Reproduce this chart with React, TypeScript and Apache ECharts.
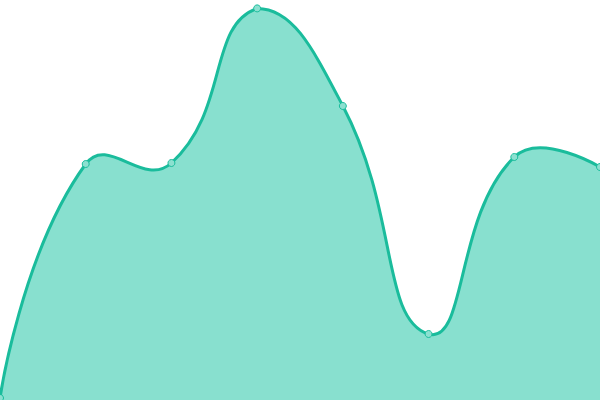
import React, { useEffect, useRef } from "react";
import * as echarts from "echarts";

const categories = ["A", "B", "C", "D", "E", "F", "G", "H"];
const values = [0.5, 59, 59.25, 97.9, 73.5, 16.5, 60.75, 58.25];

const SMOOTH = 0.5;

type P = number[];

function buildCurve(pts: P[]): string {
  // Catmull-Rom-like smoothing (ECharts 4 style) with bounding-box constraint
  let minX = Infinity, minY = Infinity, maxX = -Infinity, maxY = -Infinity;
  pts.forEach((p) => {
    minX = Math.min(minX, p[0]); maxX = Math.max(maxX, p[0]);
    minY = Math.min(minY, p[1]); maxY = Math.max(maxY, p[1]);
  });
  const clamp = (p: P): P => [
    Math.min(Math.max(p[0], minX), maxX),
    Math.min(Math.max(p[1], minY), maxY),
  ];
  const n = pts.length;
  const cpIn: P[] = [];
  const cpOut: P[] = [];
  for (let i = 0; i < n; i++) {
    const p = pts[i];
    if (i === 0 || i === n - 1) {
      cpIn.push(p.slice());
      cpOut.push(p.slice());
      continue;
    }
    const prev = pts[i - 1];
    const next = pts[i + 1];
    const vx = (next[0] - prev[0]) * SMOOTH;
    const vy = (next[1] - prev[1]) * SMOOTH;
    let d0 = Math.hypot(p[0] - prev[0], p[1] - prev[1]);
    let d1 = Math.hypot(p[0] - next[0], p[1] - next[1]);
    const s = d0 + d1;
    if (s !== 0) { d0 /= s; d1 /= s; }
    cpIn.push(clamp([p[0] - vx * d0, p[1] - vy * d0]));
    cpOut.push(clamp([p[0] + vx * d1, p[1] + vy * d1]));
  }
  let d = `M${pts[0][0]},${pts[0][1]}`;
  for (let i = 0; i < n - 1; i++) {
    const a = cpOut[i];
    const b = cpIn[i + 1];
    const q = pts[i + 1];
    d += ` C${a[0]},${a[1]} ${b[0]},${b[1]} ${q[0]},${q[1]}`;
  }
  return d;
}

export default function App() {
  const ref = useRef<HTMLDivElement>(null);
  useEffect(() => {
    if (!ref.current) return;
    const chart = echarts.init(ref.current, null, { renderer: "svg" });
    chart.setOption({
      animation: false,
      grid: { left: 0, right: 0, top: 0, bottom: 0 },
      xAxis: { type: "category", data: categories, boundaryGap: false, show: false },
      yAxis: { type: "value", min: 0, max: 100, show: false },
      series: [
        {
          type: "custom",
          data: values.map((v, i) => [i, v]),
          clip: false,
          silent: true,
          z: 1,
          renderItem: (params: any, api: any) => {
            if (params.dataIndex !== 0) return null;
            const pts = values.map((v, i) => api.coord([i, v]));
            const base = api.coord([0, 0])[1];
            const curve = buildCurve(pts);
            const last = pts[pts.length - 1];
            const first = pts[0];
            const area = `${curve} L${last[0]},${base} L${first[0]},${base} Z`;
            return {
              type: "group",
              children: [
                {
                  type: "path",
                  shape: { pathData: area },
                  style: { fill: "#88e0cf", stroke: null },
                },
                {
                  type: "path",
                  shape: { pathData: curve },
                  style: { fill: null, stroke: "#1abc9c", lineWidth: 3 },
                },
              ],
            };
          },
        },
        {
          type: "scatter",
          data: values.map((v, i) => [i, v]),
          symbol: "circle",
          symbolSize: 7,
          z: 2,
          itemStyle: { color: "#8ce0d0", borderColor: "#1abc9c", borderWidth: 1, opacity: 1 },
        },
      ],
    });
    return () => chart.dispose();
  }, []);
  return (
    <div
      ref={ref}
      style={{ position: "fixed", left: 0, top: 0, width: 600, height: 400 }}
    />
  );
}
